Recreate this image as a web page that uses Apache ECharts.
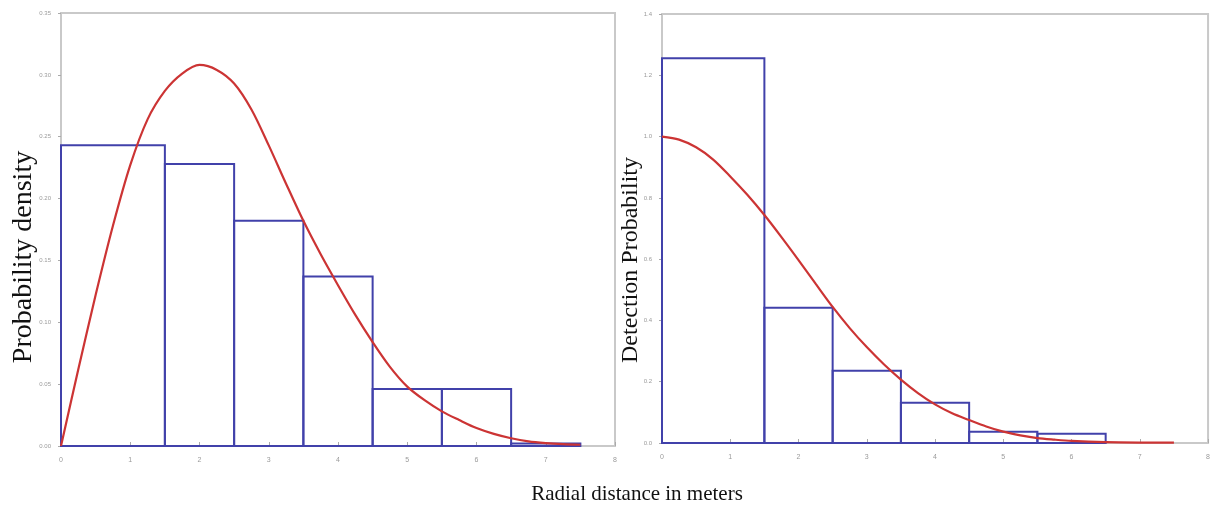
<!DOCTYPE html>
<html><head><meta charset="utf-8">
<script src="https://cdn.jsdelivr.net/npm/echarts@6/dist/echarts.min.js"></script>
<style>html,body{margin:0;padding:0;background:#fff}#c{width:1213px;height:508px}</style>
</head><body><div id="c"></div>
<script>
// Histogram bins (radial distance, m)
const binStart = [0, 1.5, 2.5, 3.5, 4.5, 5.5, 6.5];
const binEnd   = [1.5, 2.5, 3.5, 4.5, 5.5, 6.5, 7.5];
// Left panel: probability density histogram
const densityHist = [0.243, 0.228, 0.182, 0.137, 0.046, 0.046, 0.002];
// Right panel: detection probability histogram
const detectHist = [1.256, 0.441, 0.236, 0.131, 0.037, 0.030];
// Left panel fitted curve [r, density]
const densityCurve = [[0,0],[0.25,0.062],[0.5,0.122],[0.75,0.178],[1.0,0.227],[1.25,0.264],[1.5,0.287],[1.75,0.301],[2.0,0.308],[2.25,0.304],[2.5,0.293],[2.75,0.272],[3.0,0.243],[3.25,0.212],[3.5,0.182],[3.75,0.155],[4.0,0.130],[4.25,0.106],[4.5,0.084],[4.75,0.064],[5.0,0.048],[5.25,0.037],[5.5,0.028],[5.75,0.021],[6.0,0.0145],[6.25,0.0098],[6.5,0.0063],[6.75,0.0038],[7.0,0.0024],[7.25,0.0015],[7.5,0.001]];
// Right panel fitted curve [r, detection probability]
const detectCurve = [[0,1.0],[0.25,0.99],[0.5,0.965],[0.75,0.925],[1.0,0.87],[1.25,0.81],[1.5,0.744],[1.75,0.672],[2.0,0.597],[2.25,0.52],[2.5,0.444],[2.75,0.375],[3.0,0.313],[3.25,0.257],[3.5,0.207],[3.75,0.163],[4.0,0.126],[4.25,0.097],[4.5,0.075],[4.75,0.054],[5.0,0.037],[5.25,0.025],[5.5,0.016],[5.75,0.011],[6.0,0.007],[6.5,0.003],[7.0,0.0015],[7.5,0.001]];
const xTicks = [0,1,2,3,4,5,6,7,8];

const histData = (vals) => vals.map((v, i) => [binStart[i], binEnd[i], v]);
const BLUE = '#4141aa', RED = '#cc3434', FRAME = '#c9c9c9', LBL = '#9a9a9a';

function renderBin(params, api) {
  const p0 = api.coord([api.value(0), 0]);
  const p1 = api.coord([api.value(1), api.value(2)]);
  return {type: 'rect', shape: {x: p0[0], y: p1[1], width: p1[0] - p0[0], height: p0[1] - p1[1]},
    style: {fill: 'none', stroke: BLUE, lineWidth: 2}};
}
const xAxisBase = (gi) => ({
  type: 'value', gridIndex: gi, min: 0, max: 8, interval: 1,
  axisLine: {lineStyle: {color: FRAME, width: 2}},
  axisTick: {inside: true, length: 4, lineStyle: {color: '#aaa'}},
  axisLabel: {fontSize: 7, color: LBL, margin: 11, formatter: (v) => xTicks.includes(v) ? String(v) : ''},
  splitLine: {show: false}
});
const yAxisBase = (gi, max, interval, dec) => ({
  type: 'value', gridIndex: gi, min: 0, max: max, interval: interval,
  axisLine: {show: true, lineStyle: {color: FRAME, width: 2}},
  axisTick: {show: true, length: 3, lineStyle: {color: '#aaa'}},
  axisLabel: {fontSize: 6, color: LBL, margin: 10, formatter: (v) => v.toFixed(dec)},
  splitLine: {show: false}
});

const chart = echarts.init(document.getElementById('c'), null, {renderer: 'canvas'});
chart.setOption({
  animation: false,
  backgroundColor: '#fff',
  grid: [
    {left: 61, right: 598, top: 13, bottom: 62, show: true, borderColor: FRAME, borderWidth: 2},
    {left: 662, right: 2, top: 14, bottom: 65, show: true, borderColor: FRAME, borderWidth: 2}
  ],
  xAxis: [xAxisBase(0), xAxisBase(1)],
  yAxis: [yAxisBase(0, 0.35, 0.05, 2), yAxisBase(1, 1.4, 0.2, 1)],
  series: [
    {type: 'custom', xAxisIndex: 0, yAxisIndex: 0, renderItem: renderBin, encode: {x: [0, 1], y: 2}, data: histData(densityHist)},
    {type: 'custom', xAxisIndex: 1, yAxisIndex: 1, renderItem: renderBin, encode: {x: [0, 1], y: 2}, data: histData(detectHist)},
    {type: 'line', xAxisIndex: 0, yAxisIndex: 0, data: densityCurve, smooth: 0.3, showSymbol: false, lineStyle: {color: RED, width: 2.2}},
    {type: 'line', xAxisIndex: 1, yAxisIndex: 1, data: detectCurve, smooth: 0.3, showSymbol: false, lineStyle: {color: RED, width: 2.2}}
  ],
  graphic: [
    {type: 'text', x: 24, y: 257, rotation: Math.PI / 2,
      style: {text: 'Probability density', font: '28px "Liberation Serif", serif', fill: '#111', align: 'center', verticalAlign: 'middle'}},
    {type: 'text', x: 631, y: 260, rotation: Math.PI / 2,
      style: {text: 'Detection Probability', font: '24px "Liberation Serif", serif', fill: '#111', align: 'center', verticalAlign: 'middle'}},
    {type: 'text', x: 637, y: 494,
      style: {text: 'Radial distance in meters', font: '21px "Liberation Serif", serif', fill: '#111', align: 'center', verticalAlign: 'middle'}}
  ]
});
</script></body></html>
